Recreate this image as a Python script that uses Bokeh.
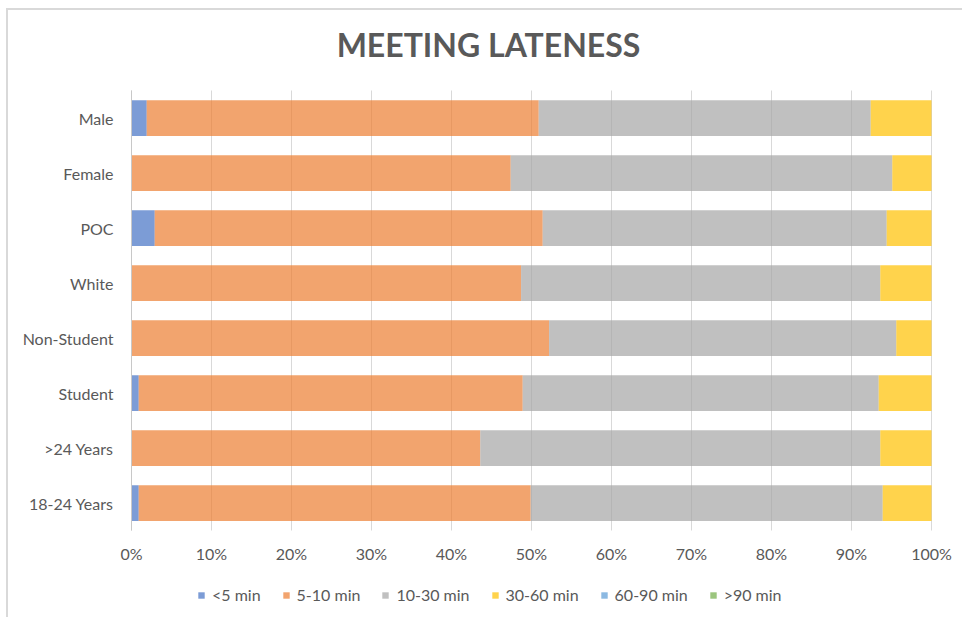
from bokeh.plotting import figure
from bokeh.models import (ColumnDataSource, Range1d, FixedTicker,
                          PrintfTickFormatter, Legend, Label)
from bokeh.embed import file_html
from bokeh.resources import INLINE

# Groups, listed top to bottom as they appear on the chart
groups = ["Male", "Female", "POC", "White", "Non-Student", "Student",
          ">24 Years", "18-24 Years"]

# Share of each group (percent) in each lateness bucket
under_5 = [1.9, 0.0, 2.9, 0.0, 0.0, 0.9, 0.0, 0.9]
min_5_10 = [49.0, 47.4, 48.5, 48.7, 52.2, 48.0, 43.6, 49.0]
min_10_30 = [41.5, 47.7, 43.0, 44.9, 43.4, 44.5, 50.0, 44.0]
min_30_60 = [7.6, 4.9, 5.6, 6.4, 4.4, 6.6, 6.4, 6.1]
min_60_90 = [0.0, 0.0, 0.0, 0.0, 0.0, 0.0, 0.0, 0.0]
over_90 = [0.0, 0.0, 0.0, 0.0, 0.0, 0.0, 0.0, 0.0]

bucket_labels = ["<5 min", "5-10 min", "10-30 min", "30-60 min", "60-90 min", ">90 min"]
bucket_keys = ["lt5", "m5_10", "m10_30", "m30_60", "m60_90", "gt90"]
bucket_colors = ["#4472C4", "#ED7D31", "#A5A5A5", "#FFC000", "#5B9BD5", "#70AD47"]
x_ticks = [0, 10, 20, 30, 40, 50, 60, 70, 80, 90, 100]

FONT = "Lato"
TEXT = "#595959"

# Canvas geometry (px). The plotting frame fills the whole canvas so the
# axes labels, title and legend all sit inside it; the bars use a band.
CANVAS_W, CANVAS_H = 956, 609
LEFT_PX, RIGHT_PX = 123, 33          # room left of 0% / right of 100%
TOP_PX, BOTTOM_PX = 80, 89           # room above / below the bar rows
PX_PER_PCT = (CANVAS_W - LEFT_PX - RIGHT_PX) / 100
ROW_PX = (CANVAS_H - TOP_PX - BOTTOM_PX) / len(groups)

n = len(groups)
row_pos = [n - 0.5 - i for i in range(n)]     # Male on top
source = ColumnDataSource(dict(
    group=groups, y=row_pos,
    lt5=under_5, m5_10=min_5_10, m10_30=min_10_30,
    m30_60=min_30_60, m60_90=min_60_90, gt90=over_90,
))

p = figure(
    width=CANVAS_W, height=CANVAS_H,
    x_range=Range1d(-LEFT_PX / PX_PER_PCT, 100 + RIGHT_PX / PX_PER_PCT),
    y_range=Range1d(-BOTTOM_PX / ROW_PX, n + TOP_PX / ROW_PX),
    output_backend="svg", toolbar_location=None,
    min_border=0,
)
p.margin = (8, 0, 0, 6)
p.styles = {"border-top": "2px solid #d9d9d9", "border-left": "2px solid #d9d9d9"}

p.background_fill_color = "white"
p.border_fill_color = "white"
p.outline_line_color = None

renderers = p.hbar_stack(bucket_keys, y="y", height=0.65, source=source,
                         color=bucket_colors, fill_alpha=0.7, line_color=None)

# title, centred over the chart
p.add_layout(Label(
    x=LEFT_PX + 357, y=CANVAS_H - 34, x_units="screen", y_units="screen",
    text="MEETING LATENESS", text_align="center", text_baseline="middle",
    text_font=FONT, text_font_size="32px", text_font_style="bold",
    text_color=TEXT,
))

# x axis: percent labels just under the last row, no line
xa = p.xaxis[0]
xa.fixed_location = 0
xa.ticker = FixedTicker(ticks=x_ticks)
xa.formatter = PrintfTickFormatter(format="%d%%")
xa.axis_line_color = None
xa.major_tick_line_color = None
xa.minor_tick_line_color = None
xa.major_tick_out = 0
xa.major_tick_in = 0
xa.major_label_standoff = 13
xa.major_label_text_font = FONT
xa.major_label_text_font_size = "16px"
xa.major_label_text_color = TEXT

# y axis at 0%: group names at the row centres and a thin line along the rows
ya = p.yaxis[0]
ya.fixed_location = 0
ya.ticker = FixedTicker(ticks=row_pos)
ya.major_label_overrides = {pos: g for pos, g in zip(row_pos, groups)}
ya.bounds = (0, n)
ya.axis_line_color = "#c8c8c8"
ya.axis_line_width = 1
ya.major_tick_line_color = None
ya.minor_tick_line_color = None
ya.major_tick_out = 0
ya.major_tick_in = 0
ya.major_label_standoff = 18
ya.major_label_text_font = FONT
ya.major_label_text_font_size = "16px"
ya.major_label_text_color = TEXT

p.xgrid.grid_line_color = "#d9d9d9"
p.xgrid.grid_line_width = 1
p.xgrid.cross_bounds = (0, n)
p.ygrid.grid_line_color = None

# legend under the percent labels
legend = Legend(
    items=[(lab, [r]) for lab, r in zip(bucket_labels, renderers)],
    orientation="horizontal",
    location=(LEFT_PX + 66, 15),
    glyph_width=8, glyph_height=8,
    label_standoff=7, spacing=21,
    label_text_font=FONT, label_text_font_size="16px",
    label_text_color=TEXT,
    border_line_color=None, background_fill_alpha=0,
)
p.add_layout(legend, "center")

open("out.html", "w").write(file_html(p, INLINE))
